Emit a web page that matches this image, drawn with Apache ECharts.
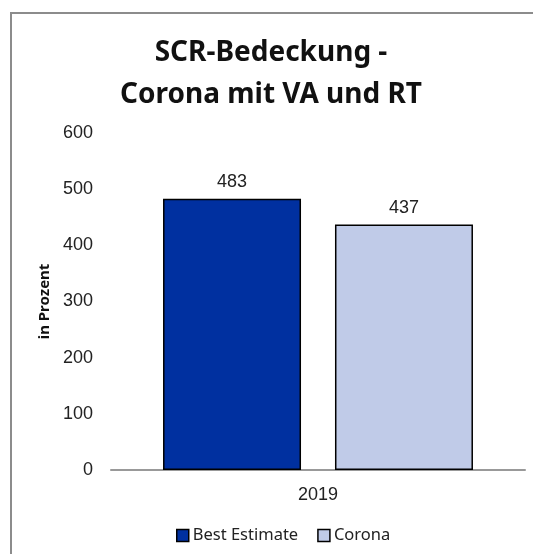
<!DOCTYPE html>
<html>
<head>
<meta charset="utf-8">
<script src="https://cdn.jsdelivr.net/npm/echarts@6/dist/echarts.min.js"></script>
<style>
  html, body { margin: 0; padding: 0; background: #fff; }
  #chart { width: 533px; height: 554px; }
</style>
</head>
<body>
<div id="chart"></div>
<script>
const categories = ['2019']
const seriesNames = ['Best Estimate', 'Corona']
const bestEstimate = [483]
const corona = [437]
const yTicks = [0, 100, 200, 300, 400, 500, 600]

const chart = echarts.init(document.getElementById('chart'))

const labelStyle = {
    show: true,
    position: 'top',
    distance: 8,
    color: '#222',
    fontSize: 18,
    fontFamily: 'Liberation Sans'
}

chart.setOption({
    animation: false,
    backgroundColor: '#fff',
    graphic: [{
        type: 'rect',
        shape: { x: 11, y: 13, width: 700, height: 700 },
        style: { fill: 'none', stroke: '#8c8c8c', lineWidth: 2 },
        silent: true
    }],
    title: {
        text: 'SCR-Bedeckung -\nCorona mit VA und RT',
        left: 266,
        textAlign: 'center',
        top: 27,
        textStyle: {
            fontFamily: 'Noto Sans',
            fontWeight: 'bold',
            fontSize: 28,
            lineHeight: 42,
            color: '#111'
        }
    },
    legend: {
        data: seriesNames,
        bottom: 5,
        left: 171,
        itemWidth: 12,
        itemHeight: 12,
        itemGap: 19,
        icon: 'rect',
        textStyle: { fontSize: 16.5, color: '#222', fontFamily: 'Noto Sans', padding: [0, 0, 0, -1] },
        itemStyle: { borderColor: '#000', borderWidth: 1.5 }
    },
    grid: { left: 111, right: 8, top: 133, bottom: 84 },
    xAxis: {
        type: 'category',
        data: categories,
        axisLine: { lineStyle: { color: '#999', width: 2 } },
        axisTick: { show: false },
        axisLabel: { fontSize: 18, color: '#222', margin: 16, fontFamily: 'Liberation Sans' }
    },
    yAxis: {
        type: 'value',
        min: yTicks[0],
        max: yTicks[yTicks.length - 1],
        interval: 100,
        name: 'in Prozent',
        nameLocation: 'middle',
        nameGap: 54,
        nameTextStyle: { fontSize: 15, fontWeight: 'bold', color: '#111', fontFamily: 'Noto Sans' },
        axisLine: { show: false },
        axisTick: { show: false },
        splitLine: { show: false },
        axisLabel: { fontSize: 18, color: '#222', margin: 18, fontFamily: 'Liberation Sans' }
    },
    series: [{
        name: seriesNames[0],
        type: 'bar',
        data: bestEstimate,
        barWidth: 138,
        barGap: '24.6%',
        itemStyle: { color: '#0030a0', borderColor: '#000', borderWidth: 1.5 },
        label: labelStyle
    }, {
        name: seriesNames[1],
        type: 'bar',
        data: corona,
        barWidth: 138,
        itemStyle: { color: '#c0cbe8', borderColor: '#000', borderWidth: 1.5 },
        label: labelStyle
    }]
})
</script>
</body>
</html>
